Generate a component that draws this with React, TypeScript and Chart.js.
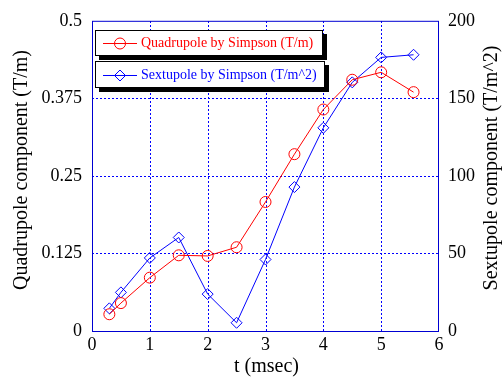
import React, { useEffect, useRef } from 'react';
import { Chart, registerables } from 'chart.js';

Chart.register(...registerables);

// ---- data ----
const tValues = [0.3, 0.5, 1, 1.5, 2, 2.5, 3, 3.5, 4, 4.5, 5, 5.56];
const quadrupole = [0.027, 0.045, 0.086, 0.122, 0.121, 0.135, 0.208, 0.285, 0.357, 0.405, 0.417, 0.385];
const sextupole = [14.6, 24.9, 47.1, 60.3, 23.8, 5.3, 46.1, 92.8, 131, 160.3, 176.4, 178.1];
const xTicks = [0, 1, 2, 3, 4, 5, 6];
const leftTicks = [0, 0.125, 0.25, 0.375, 0.5];
const rightTicks = [0, 50, 100, 150, 200];
const seriesLabels = ['Quadrupole by Simpson (T/m)', 'Sextupole by Simpson (T/m^2)'];
const xTitle = 't (msec)';
const leftTitle = 'Quadrupole component (T/m)';
const rightTitle = 'Sextupole component (T/m^2)';

const RED = 'rgb(255,0,0)';
const BLUE = 'rgb(0,0,255)';
const FRAME = 'rgb(0,0,210)';
const FONT = '"Liberation Serif", "Times New Roman", serif';

function drawMarker(ctx: CanvasRenderingContext2D, style: string, x: number, y: number, r: number) {
  ctx.beginPath();
  if (style === 'circle') {
    ctx.arc(x, y, r, 0, Math.PI * 2);
  } else {
    ctx.moveTo(x - r, y);
    ctx.lineTo(x, y - r);
    ctx.lineTo(x + r, y);
    ctx.lineTo(x, y + r);
    ctx.closePath();
  }
  ctx.stroke();
}

const gridPlugin = {
  id: 'dotgrid',
  beforeDatasetsDraw(chart: any) {
    const ctx: CanvasRenderingContext2D = chart.ctx;
    const a = chart.chartArea;
    const xs = chart.scales.x;
    const ys = chart.scales.yL;
    ctx.save();
    ctx.strokeStyle = BLUE;
    ctx.lineWidth = 1;
    ctx.setLineDash([2, 2]);
    xTicks.forEach((v) => {
      const px = Math.round(xs.getPixelForValue(v)) + 0.5;
      if (px <= a.left + 1 || px >= a.right - 1) return;
      ctx.beginPath();
      ctx.moveTo(px, a.bottom);
      ctx.lineTo(px, a.top);
      ctx.stroke();
    });
    leftTicks.forEach((v) => {
      const py = Math.round(ys.getPixelForValue(v)) + 0.5;
      if (py <= a.top + 1 || py >= a.bottom - 1) return;
      ctx.beginPath();
      ctx.moveTo(a.left, py);
      ctx.lineTo(a.right, py);
      ctx.stroke();
    });
    ctx.restore();
  },
};

const decorPlugin = {
  id: 'decor',
  afterDraw(chart: any) {
    const ctx: CanvasRenderingContext2D = chart.ctx;
    const a = chart.chartArea;
    ctx.save();
    ctx.setLineDash([]);
    // plot frame
    ctx.strokeStyle = FRAME;
    ctx.lineWidth = 1;
    ctx.strokeRect(a.left + 0.5, a.top + 0.5, a.right - a.left - 1, a.bottom - a.top);

    // axis titles
    ctx.fillStyle = '#000';
    ctx.font = `20px ${FONT}`;
    ctx.textAlign = 'center';
    ctx.textBaseline = 'middle';
    ctx.fillText(xTitle, (a.left + a.right) / 2 + 1, 367);
    ctx.save();
    ctx.translate(22, 170);
    ctx.rotate(-Math.PI / 2);
    ctx.fillText(leftTitle, 0, 0);
    ctx.restore();
    ctx.save();
    ctx.translate(492, 168);
    ctx.rotate(-Math.PI / 2);
    ctx.fillText(rightTitle, 0, 0);
    ctx.restore();

    // legend boxes
    const boxes = [
      { x: 95, y: 30, w: 228, h: 26 },
      { x: 95, y: 61, w: 230, h: 27 },
    ];
    const ds = chart.data.datasets;
    ds.forEach((d: any, i: number) => {
      const b = boxes[i];
      ctx.fillStyle = '#000';
      ctx.fillRect(b.x + 4, b.y + 4, b.w, b.h);
      ctx.fillStyle = '#fff';
      ctx.fillRect(b.x, b.y, b.w, b.h);
      ctx.strokeStyle = '#000';
      ctx.lineWidth = 1;
      ctx.strokeRect(b.x + 0.5, b.y + 0.5, b.w - 1, b.h - 1);
      const cy = Math.round(b.y + b.h / 2) + 0.5;
      ctx.strokeStyle = d.borderColor;
      ctx.beginPath();
      ctx.moveTo(103, cy);
      ctx.lineTo(137, cy);
      ctx.stroke();
      drawMarker(ctx, d.pointStyle, 120, cy, 5.5);
      ctx.fillStyle = d.borderColor;
      ctx.font = `14px ${FONT}`;
      ctx.textAlign = 'left';
      ctx.textBaseline = 'middle';
      ctx.fillText(d.label, 141, cy);
    });
    ctx.restore();
  },
};

export default function App() {
  const ref = useRef<HTMLCanvasElement | null>(null);

  useEffect(() => {
    document.body.style.margin = '0';
    const canvas = ref.current;
    if (!canvas) return;
    const tickFont = { family: FONT, size: 18 };
    const chart = new Chart(canvas, {
      type: 'line',
      data: {
        datasets: [
          {
            label: seriesLabels[0],
            data: tValues.map((t, i) => ({ x: t, y: quadrupole[i] })),
            yAxisID: 'yL',
            borderColor: RED,
            backgroundColor: 'rgba(0,0,0,0)',
            borderWidth: 1,
            pointStyle: 'circle',
            pointRadius: 5.5,
            pointBorderWidth: 1,
            pointBackgroundColor: 'rgba(0,0,0,0)',
            pointBorderColor: RED,
            tension: 0,
          },
          {
            label: seriesLabels[1],
            data: tValues.map((t, i) => ({ x: t, y: sextupole[i] })),
            yAxisID: 'yR',
            borderColor: BLUE,
            backgroundColor: 'rgba(0,0,0,0)',
            borderWidth: 1,
            pointStyle: 'rectRot',
            pointRadius: 5.5,
            pointBorderWidth: 1,
            pointBackgroundColor: 'rgba(0,0,0,0)',
            pointBorderColor: BLUE,
            tension: 0,
          },
        ],
      },
      options: {
        responsive: false,
        animation: false,
        devicePixelRatio: 1,
        layout: { padding: { top: 20, left: 0, right: 0, bottom: 0 } },
        plugins: {
          legend: { display: false },
          tooltip: { enabled: false },
        },
        scales: {
          x: {
            type: 'linear',
            min: 0,
            max: 6,
            afterBuildTicks: (s: any) => { s.ticks = xTicks.map((v) => ({ value: v })); },
            afterFit: (s: any) => { s.height = 47; },
            ticks: { font: tickFont, color: '#000', padding: 3, maxRotation: 0, autoSkip: false, callback: (v: any) => String(v) },
            grid: { display: false, drawTicks: false },
            border: { display: false },
          },
          yL: {
            type: 'linear',
            position: 'left',
            min: 0,
            max: 0.5,
            afterBuildTicks: (s: any) => { s.ticks = leftTicks.map((v) => ({ value: v })); },
            afterFit: (s: any) => { s.width = 92; },
            ticks: { font: tickFont, color: '#000', padding: 10, autoSkip: false, callback: (v: any) => String(v) },
            grid: { display: false, drawTicks: false },
            border: { display: false },
          },
          yR: {
            type: 'linear',
            position: 'right',
            min: 0,
            max: 200,
            afterBuildTicks: (s: any) => { s.ticks = rightTicks.map((v) => ({ value: v })); },
            afterFit: (s: any) => { s.width = 63; },
            ticks: { font: tickFont, color: '#000', padding: 9, autoSkip: false, callback: (v: any) => String(v) },
            grid: { display: false, drawTicks: false },
            border: { display: false },
          },
        },
      } as any,
      plugins: [gridPlugin, decorPlugin],
    });
    return () => chart.destroy();
  }, []);

  return <canvas ref={ref} width={502} height={378} style={{ display: 'block' }} />;
}
